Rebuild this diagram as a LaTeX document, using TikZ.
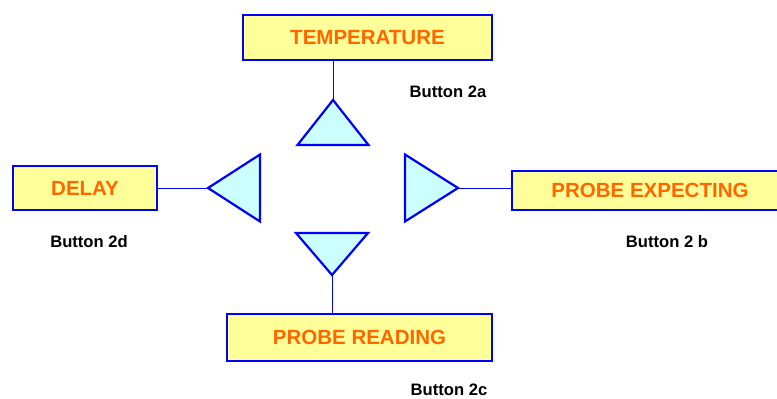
\documentclass[tikz,border=0pt]{standalone}
\usepackage{fontspec}
\setmainfont{Liberation Sans}
\usepackage{tikz}
\usetikzlibrary{shapes.geometric}
\definecolor{boxfill}{HTML}{FFFF99}
\definecolor{boxline}{HTML}{0000FF}
\definecolor{boxtext}{HTML}{FF6600}
\definecolor{trifill}{HTML}{CCFFFF}

\begin{document}
\begin{tikzpicture}[x=1pt, y=-1pt,
    box/.style={draw=boxline, line width=2pt, fill=boxfill, text=boxtext, inner sep=0pt,
        font=\fontsize{20.5}{22}\selectfont\bfseries},
    tri/.style={draw=boxline, line width=2.2pt, fill=trifill, isosceles triangle,
        isosceles triangle stretches, inner sep=0pt, outer sep=0pt, anchor=apex},
    btn/.style={font=\fontsize{16.6}{18}\selectfont\bfseries, inner sep=0pt},
    wire/.style={draw=boxline, line width=1pt}]
    \clip (0,0) rectangle (777,399);
    \useasboundingbox (0,0) rectangle (777,399);
    \node [box, minimum width=249, minimum height=45] at (367.5,37.5) (temp) {TEMPERATURE};
    \node [box, minimum width=144, minimum height=44] at (85,188) (delay) {DELAY};
    \node [box, minimum width=276, minimum height=39] at (650,190.5) (probexp) {PROBE EXPECTING};
    \node [box, minimum width=265, minimum height=47] at (359.5,337.5) (probread) {PROBE READING};
    \node [tri, rotate=90, minimum height=45, minimum width=71] at (333,100) (triup) {};
    \node [tri, rotate=180, minimum height=52, minimum width=67] at (208,188) (trileft) {};
    \node [tri, minimum height=53, minimum width=67] at (458,188) (triright) {};
    \node [tri, rotate=-90, minimum height=42, minimum width=72] at (332,275) (tridown) {};
    \node [btn] at (448,92) (btna) {Button 2a};
    \node [btn] at (667,242) (btnb) {Button 2 b};
    \node [btn] at (449,390) (btnc) {Button 2c};
    \node [btn] at (89,242) (btnd) {Button 2d};
    \path [wire] (triup.apex) -- (triup.apex |- temp.south);
    \path [wire] (trileft.apex) -- (delay.east);
    \path [wire] (triright.apex) -- (triright.apex -| probexp.west);
    \path [wire] (tridown.apex) -- (tridown.apex |- probread.north);
\end{tikzpicture}
\end{document}
